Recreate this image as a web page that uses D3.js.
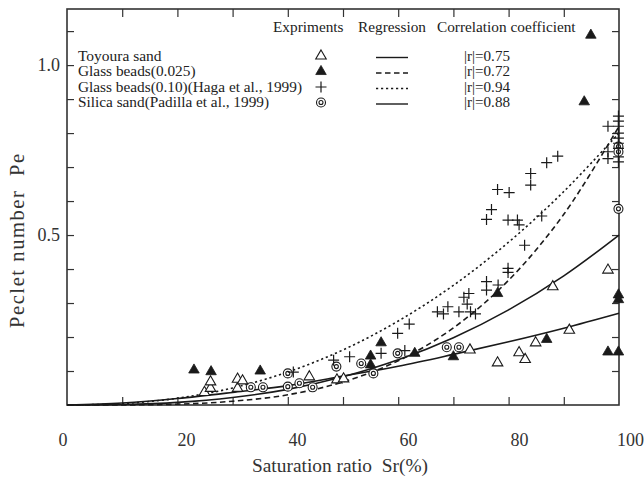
<!DOCTYPE html>
<html>
<head>
<meta charset="utf-8">
<script src="https://cdn.jsdelivr.net/npm/d3@7"></script>
<style>
  body { margin: 0; background: #fff; }
  svg, svg text { font-family: 'Liberation Serif', 'Times New Roman', Times, 'DejaVu Serif', serif; }
  .title { white-space: pre; }
</style>
</head>
<body>
<svg id="chart" width="644" height="483"></svg>
<script>
// points: [Sr (%), Pe]
const toyoura = [
  [24.9, 0.037], [26.0, 0.049], [26.0, 0.068], [30.9, 0.049], [30.9, 0.076], [31.8, 0.071],
  [43.9, 0.083], [48.9, 0.074], [50.1, 0.077], [73.0, 0.162], [78.0, 0.124], [81.9, 0.154],
  [83.0, 0.134], [84.9, 0.183], [88.0, 0.348], [91.0, 0.220], [98.0, 0.397]
];
const glass025 = [
  [23.0, 0.103], [26.1, 0.098], [35.0, 0.100], [55.0, 0.144], [55.0, 0.118], [56.9, 0.183],
  [63.0, 0.152], [70.0, 0.142], [78.0, 0.328], [86.9, 0.193], [93.7, 0.892], [94.9, 1.088],
  [98.0, 0.156], [99.9, 0.156], [99.9, 0.324], [99.9, 0.310]
];
const glass010 = [
  [41.0, 0.097], [48.3, 0.132], [51.2, 0.142], [56.9, 0.152], [59.9, 0.211], [61.2, 0.160],
  [62.0, 0.238], [67.1, 0.274], [68.2, 0.268], [69.0, 0.289], [71.0, 0.274], [71.9, 0.317],
  [72.5, 0.297], [72.8, 0.328], [73.1, 0.274], [74.0, 0.268], [76.0, 0.363], [76.0, 0.338],
  [78.1, 0.353], [79.9, 0.402], [79.9, 0.390], [82.9, 0.470], [79.9, 0.544], [81.6, 0.544],
  [81.9, 0.530], [76.0, 0.546], [76.9, 0.575], [78.0, 0.634], [80.1, 0.625], [84.0, 0.681],
  [84.0, 0.647], [86.0, 0.556], [86.9, 0.713], [88.9, 0.732], [98.0, 0.820], [98.0, 0.745],
  [98.0, 0.725], [99.9, 0.850], [99.9, 0.835], [99.9, 0.820], [99.9, 0.800], [99.9, 0.785],
  [99.9, 0.770], [99.9, 0.755], [99.9, 0.730], [99.9, 0.715]
];
const silica = [
  [33.3, 0.052], [35.5, 0.052], [40.0, 0.054], [40.0, 0.093], [42.1, 0.064], [44.5, 0.052],
  [48.8, 0.113], [53.3, 0.122], [55.5, 0.093], [59.9, 0.152], [68.8, 0.170], [71.0, 0.170],
  [99.9, 0.760], [99.9, 0.745], [99.9, 0.577]
];

// regression curves at these Sr values
const curveSr = [0, 10, 20, 30, 40, 50, 60, 70, 80, 90, 100];
const regToyoura = [0, 0.006, 0.019, 0.037, 0.057, 0.085, 0.114, 0.149, 0.186, 0.226, 0.27];
const regGlass025 = [0, 0.0002, 0.0025, 0.011, 0.030, 0.068, 0.130, 0.227, 0.367, 0.561, 0.82];
const regGlass010 = [0, 0.004, 0.020, 0.050, 0.097, 0.162, 0.247, 0.352, 0.479, 0.628, 0.80];
const regSilica = [0, 0.0013, 0.0076, 0.022, 0.046, 0.083, 0.133, 0.198, 0.280, 0.380, 0.50];

const legendNames = [
  "Toyoura sand",
  "Glass beads(0.025)",
  "Glass beads(0.10)(Haga et al., 1999)",
  "Silica sand(Padilla et al., 1999)"
];
const corrLabels = ["|r|=0.75", "|r|=0.72", "|r|=0.94", "|r|=0.88"];
const xTickLabels = [0, 20, 40, 60, 80, 100];
const yTickLabels = [0.5, 1.0];

const FONT = "'Liberation Serif', 'Times New Roman', Times, serif";
const svg = d3.select('#chart').attr('font-family', FONT);
const ink = '#1a1a1a';

const x = d3.scaleLinear().domain([0, 100]).range([67, 619]);
const y = d3.scaleLinear().domain([0, 1.165]).range([405, 9]);
// the printed tick labels sit a little off their ticks
const xLabelPos = d3.scaleLinear().domain([0, 20, 100]).range([62.5, 186, 630]);

// frame
svg.append('rect')
  .attr('x', x(0)).attr('y', y(1.165))
  .attr('width', x(100) - x(0)).attr('height', y(0) - y(1.165))
  .attr('fill', 'none').attr('stroke', '#333').attr('stroke-width', 1.6);

// inward ticks on all four sides
const xTicks = d3.range(10, 100, 10);
const yTicks = d3.range(1, 12).map(d => d / 10);
function tickAxis(g) {
  g.select('.domain').remove();
  g.selectAll('line').attr('stroke', '#333').attr('stroke-width', 1.2);
  g.selectAll('text').remove();
}
svg.append('g').attr('transform', `translate(0,${y(0)})`)
  .call(d3.axisBottom(x).tickValues(xTicks).tickSizeInner(-8).tickSizeOuter(0)).call(tickAxis);
svg.append('g').attr('transform', `translate(0,${y(1.165)})`)
  .call(d3.axisTop(x).tickValues(xTicks).tickSizeInner(-8).tickSizeOuter(0)).call(tickAxis);
svg.append('g').attr('transform', `translate(${x(0)},0)`)
  .call(d3.axisLeft(y).tickValues(yTicks).tickSizeInner(-7).tickSizeOuter(0)).call(tickAxis);
svg.append('g').attr('transform', `translate(${x(100)},0)`)
  .call(d3.axisRight(y).tickValues(yTicks).tickSizeInner(-7).tickSizeOuter(0)).call(tickAxis);

// tick labels
const xl = svg.append('g').attr('transform', 'translate(0,440)')
  .call(d3.axisBottom(xLabelPos).tickValues(xTickLabels).tickSize(0).tickPadding(0).tickFormat(d3.format('d')));
xl.attr('font-family', FONT).attr('font-size', 18);
xl.select('.domain').remove();
xl.selectAll('text').attr('fill', '#333').attr('dy', '0.32em');

const yl = svg.append('g').attr('transform', `translate(${x(0) - 7},0)`)
  .call(d3.axisLeft(y).tickValues(yTickLabels).tickSize(0).tickPadding(0).tickFormat(d3.format('.1f')));
yl.attr('font-family', FONT).attr('font-size', 18);
yl.select('.domain').remove();
yl.selectAll('text').attr('fill', '#333');

// axis titles (double spaces kept as printed)
svg.append('text').attr('class', 'title').attr('x', 340).attr('y', 472).attr('text-anchor', 'middle')
  .attr('font-size', 19.4).attr('fill', '#333').text('Saturation ratio  Sr(%)');
svg.append('text').attr('class', 'title').attr('transform', 'translate(24,241) rotate(-90)')
  .attr('text-anchor', 'middle').attr('font-size', 20.5).attr('fill', '#333')
  .attr('textLength', 174).attr('lengthAdjust', 'spacing').text('Peclet number  Pe');

// regression curves
const line = d3.line().x((d, i) => x(curveSr[i])).y(d => y(d)).curve(d3.curveCatmullRom);
const curves = [
  { values: regToyoura, dash: null },
  { values: regGlass025, dash: '5.5,3.5' },
  { values: regGlass010, dash: '2.2,2.8' },
  { values: regSilica, dash: null }
];
curves.forEach(c => {
  svg.append('path').attr('d', line(c.values))
    .attr('fill', 'none').attr('stroke', ink).attr('stroke-width', 1.6)
    .attr('stroke-dasharray', c.dash);
});

// markers
const tri = d3.symbol().type(d3.symbolTriangle).size(48)();
function drawMarker(g, kind, cx, cy) {
  if (kind === 'open') {
    g.append('path').attr('d', tri).attr('transform', `translate(${cx},${cy})`)
      .attr('fill', '#fff').attr('stroke', ink).attr('stroke-width', 1.1);
  } else if (kind === 'filled') {
    g.append('path').attr('d', tri).attr('transform', `translate(${cx},${cy})`)
      .attr('fill', ink).attr('stroke', ink).attr('stroke-width', 0.8);
  } else if (kind === 'plus') {
    g.append('path').attr('d', `M${cx - 5.5},${cy}H${cx + 5.5}M${cx},${cy - 5.5}V${cy + 5.5}`)
      .attr('stroke', ink).attr('stroke-width', 1.2).attr('fill', 'none');
  } else {
    g.append('circle').attr('cx', cx).attr('cy', cy).attr('r', 4.5)
      .attr('fill', '#fff').attr('stroke', ink).attr('stroke-width', 1.1);
    g.append('circle').attr('cx', cx).attr('cy', cy).attr('r', 2)
      .attr('fill', '#fff').attr('stroke', ink).attr('stroke-width', 1.1);
  }
}
const series = [
  { data: silica, kind: 'circle' },
  { data: glass010, kind: 'plus' },
  { data: toyoura, kind: 'open' },
  { data: glass025, kind: 'filled' }
];
const pts = svg.append('g');
series.forEach(s => s.data.forEach(d => drawMarker(pts, s.kind, x(d[0]), y(d[1]))));

// legend
const leg = svg.append('g').attr('fill', '#222');
leg.append('text').attr('x', 273).attr('y', 32).attr('font-size', 15.3).text('Expriments');
leg.append('text').attr('x', 358).attr('y', 32).attr('font-size', 15.3).text('Regression');
leg.append('text').attr('x', 437).attr('y', 32).attr('font-size', 15.3).text('Correlation coefficient');
const rowY = [60.5, 76, 91.5, 107];
const nameWidths = [83.5, 117.5, 224, 191];
const kinds = ['open', 'filled', 'plus', 'circle'];
legendNames.forEach((name, i) => {
  leg.append('text').attr('x', 78).attr('y', rowY[i]).attr('font-size', 13.9)
    .attr('textLength', nameWidths[i]).attr('lengthAdjust', 'spacingAndGlyphs').text(name);
  drawMarker(leg, kinds[i], 321, rowY[i] - 4.5);
  leg.append('line').attr('x1', 376).attr('x2', 408)
    .attr('y1', rowY[i] - 3).attr('y2', rowY[i] - 3)
    .attr('stroke', ink).attr('stroke-width', 1.4)
    .attr('stroke-dasharray', curves[i].dash);
  leg.append('text').attr('x', 464).attr('y', rowY[i]).attr('font-size', 13.9)
    .attr('textLength', 46).attr('lengthAdjust', 'spacingAndGlyphs').text(corrLabels[i]);
});
</script>
</body>
</html>
